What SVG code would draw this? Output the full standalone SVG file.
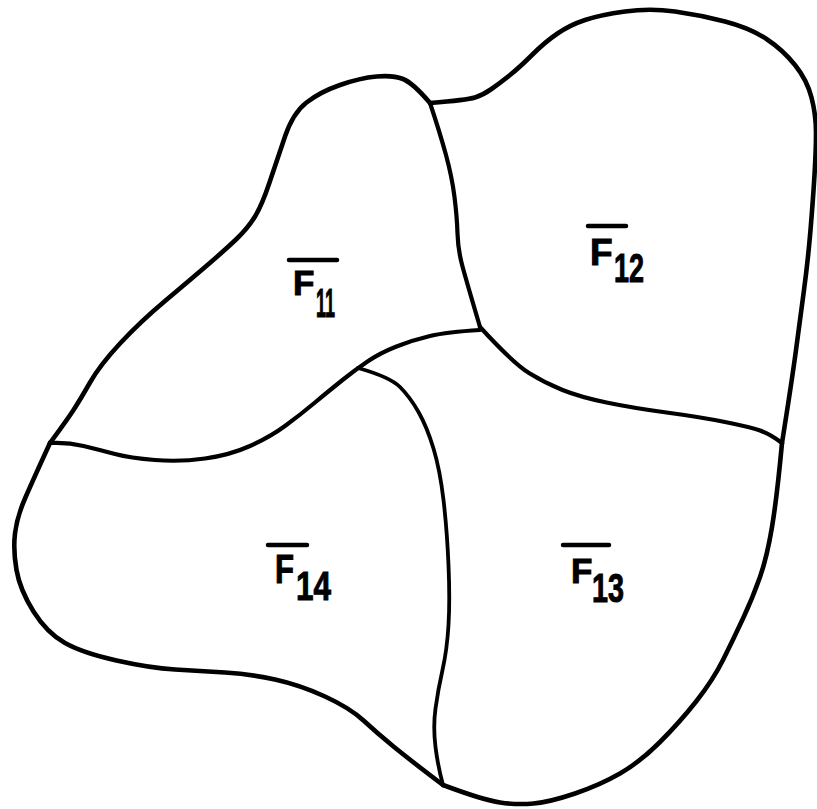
<svg xmlns="http://www.w3.org/2000/svg" width="817" height="809" viewBox="0 0 817 809">
<style>
.ln{fill:none;stroke:#000;stroke-linecap:round;stroke-linejoin:round}
.out{stroke-width:4.6}
.div{stroke-width:4.2}
.bar{fill:none;stroke:#000;stroke-width:4.5;stroke-linecap:round}
.F{font-family:"Liberation Sans",Arial,sans-serif;font-weight:bold;fill:#000;stroke:#000;stroke-width:1}
.sub{font-family:"Liberation Sans",Arial,sans-serif;font-weight:bold;fill:#000;stroke:#000;stroke-width:1}
</style>
<rect x="0" y="0" width="817" height="809" fill="#fff"/>
<g id="connectors">
<path id="outline-F11" class="ln out" d="M430,103 Q413,83 403,79 T376.5,76.5 T340,85 T306.5,102.5 T285,136.5 T269.5,182.5 T255,216.5 T236.5,239 T207.5,265 T165,301 T120,343.5 T90,382.5 T73.5,410 T50,443"/>
<path id="outline-F14" class="ln out" d="M50,443 Q33,480 25,498.5 T15,533.5 T16.5,570 T33.5,611.5 T65,643 T116.5,660.5 T175,669.5 T225,672.5 T275,679.5 T325,696.5 T363.5,720.5 T393.5,746.5 T443,785"/>
<path id="outline-F13" class="ln out" d="M443,785 Q483,800 500,802.5 T533.5,803.5 T575,793.5 T620,773.5 T660,742 T696.5,701 T723,660 T743,618.5 T760,577 T772,527 T782,443"/>
<path id="outline-F12" class="ln out" d="M782,443 Q792,380 796,350 T804,290 T810.5,230 T814.5,175 T816,132.5 T811.5,97.5 T795,65 T766.5,39 T725,21.5 T675,11.5 T625,11.5 T585,20 T557.5,33.5 T532.5,54.5 T510,75 T491.5,89 T475,97.5 T430,103"/>
<path id="border-F11-F12" class="ln div" d="M430,103 Q440,133 446,155 T454.5,197 T457.5,233.5 T462.5,266.5 T480,327"/>
<path id="border-F12-F13" class="ln div" d="M480,327 Q513,363 529,373 T562.5,390 T606.5,402.5 T666.5,412.5 T725,422 T760,430.5 T782,443"/>
<path id="border-F11-lower" class="ln div" d="M480,330 Q447,332 430,336 T396.5,346.5 T367.5,361.5 T342.5,380 T315,402.5 T285,426 T250,446 T205,458.5 T155,460 T115,454 T83.5,446 T50,443"/>
<path id="border-F14-F13" class="ln div" style="stroke-width:3.8" d="M358,368 Q390,377 400,387 T418.5,412 T433.5,448.5 T443.5,500 T448.5,565 T448.5,625 T442.5,670 T435.5,708.5 T435.5,747 T443,785"/>
</g>
<g id="F11">
<line class="bar" x1="289" y1="260" x2="337" y2="260"/>
<text class="F" x="293" y="295" font-size="35">F</text>
<text class="sub" x="316" y="317" font-size="40" textLength="19" lengthAdjust="spacingAndGlyphs">11</text>
</g>
<g id="F12">
<line class="bar" x1="588" y1="226" x2="626" y2="226"/>
<text class="F" x="590" y="265" font-size="37">F</text>
<text class="sub" x="614" y="282" font-size="40" textLength="30" lengthAdjust="spacingAndGlyphs">12</text>
</g>
<g id="F14">
<line class="bar" x1="268" y1="545" x2="307" y2="545"/>
<text class="F" x="275" y="583" font-size="40" textLength="19" lengthAdjust="spacingAndGlyphs">F</text>
<text class="sub" x="296" y="600" font-size="41" textLength="35" lengthAdjust="spacingAndGlyphs">14</text>
</g>
<g id="F13">
<line class="bar" x1="563" y1="545" x2="609" y2="545"/>
<text class="F" x="571" y="583" font-size="35">F</text>
<text class="sub" x="592" y="602" font-size="41" textLength="32" lengthAdjust="spacingAndGlyphs">13</text>
</g>
</svg>
